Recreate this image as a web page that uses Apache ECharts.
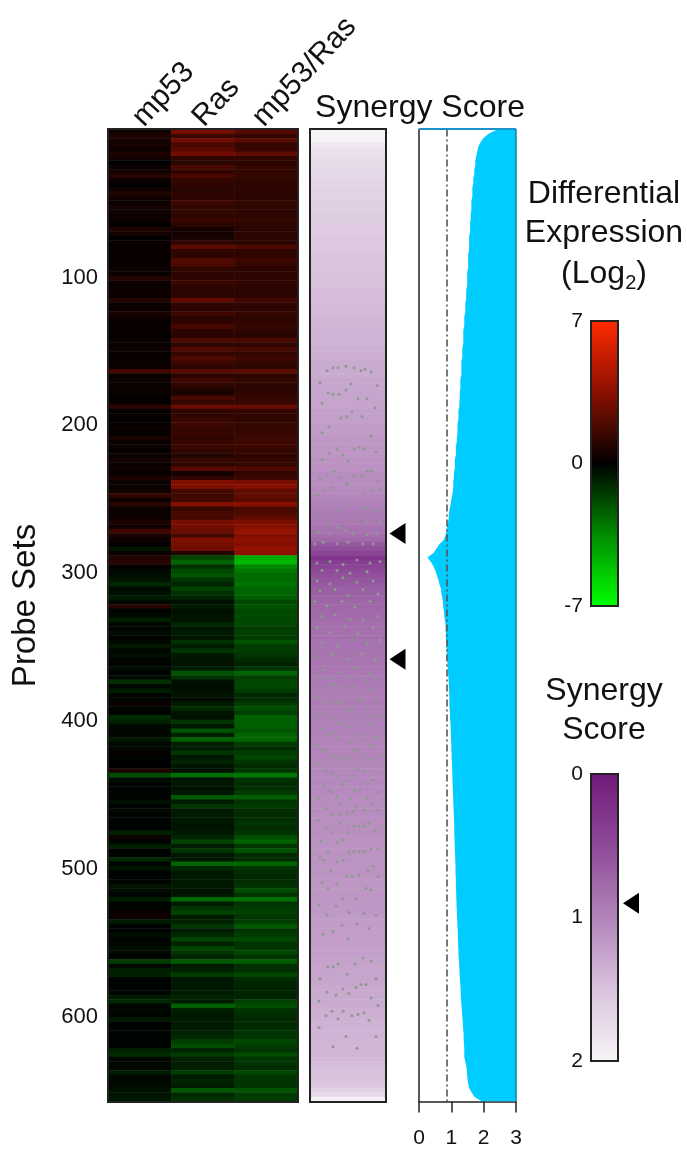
<!DOCTYPE html>
<html>
<head>
<meta charset="utf-8">
<style>html,body{margin:0;padding:0;background:#fff}#c{width:687px;height:1153px;filter:blur(0.6px)}</style>
<script src="https://cdn.jsdelivr.net/npm/echarts@6/dist/echarts.min.js"></script>
</head>
<body>
<div id="c"></div>
<script>
const sampleNames = ['mp53', 'Ras', 'mp53/Ras'];
const probeTicks = [100, 200, 300, 400, 500, 600];
const probeCount = 657;

// Log2 differential expression, one value per 3-probe row, read top to bottom
const mp53 = [
.4,.8,.5,.6,.3,.7,.4,0,.3,.5,
1,.3,0,.4,.8,.4,.3,.5,.4,.3,
.3,0,.7,.5,0,.2,.2,.2,.2,.2,
.2,.3,.2,.9,.3,.2,.3,.3,.9,.2,
.3,.6,.3,.2,.2,.2,.1,.2,.2,.3,
.2,.2,.2,.3,1.7,.2,.3,.2,.3,.2,
.1,.2,1.1,.1,.2,0,.1,.3,.1,.6,
.2,.3,.1,.3,.5,.2,.4,.2,.7,.3,
.2,.4,1.3,.3,1,.3,.2,.3,.7,.3,
1.6,.6,.3,.1,-.5,.2,.9,1,.1,-.2,
-.3,-.5,-1,-.3,-.4,-.7,-.2,1,-.1,-.2,
-.8,-.2,-.1,-.3,-.1,-.2,-.6,-.2,-.4,-.1,
-.1,-.3,-.1,-.2,-1.2,-.2,-.7,-.1,-.1,.3,
-.1,-.1,-1.1,-.8,-.2,-.2,-.2,-.6,-.2,-.2,
.2,-.1,0,0,.7,-1.9,-.3,-.1,-.1,-.1,
-.1,-.4,-.1,-.2,-.1,-.1,-.1,-.1,-.8,.3,
-.1,-.8,-.1,-.1,-1,-.1,-.5,-.1,-.1,-.1,
-.5,-.3,-.1,-.7,-.1,-.1,.3,.3,-.7,-.1,
-.1,-.3,-.1,-.2,-.4,-.2,-.1,-1.5,-.2,-.8,
-.8,-.1,-.1,-.1,-.1,-.7,-1,-.1,-.2,-.1,
-.6,-.1,-.1,-.1,-.1,-.1,-.1,-.8,-1.1,-.2,
-.2,-.2,-.7,-.2,-.2,-.3,-.4,-.5,-.6];

const ras = [
3,1.5,2.8,1.7,2.2,2.8,1.2,1,1.8,1.2,
1.8,1.3,1.2,1,1.2,1.1,1.6,1.2,1.3,1.1,
1.4,1,.5,.5,.6,1.2,2.3,1.2,1.1,2,
1.9,1.2,1.1,1.2,1.5,1.1,1,1.1,2.5,1.2,
1.1,1.6,1,1.2,1.8,1.1,1,2,1.1,2,
1.2,1.9,1.6,1.1,2.2,1,1.6,1.2,.8,.6,
1.8,1.3,2.6,1.2,1.2,1.4,1.5,1.3,1.4,1.2,
1.4,1.5,1.2,.8,1.4,1.1,2.1,.5,1.2,3.2,
3.2,1.7,1.5,1.7,3.2,1.4,1.8,1.7,3,2.9,
2.6,1.7,3.2,3,2.8,.8,-1.7,-2.5,-1.2,-1.8,
-2.1,-1.3,-.9,-1.7,-1.2,-.9,-.4,-.7,-.4,-.5,
-.5,-1,-.6,-.7,-.5,-1.2,-.7,-1.3,-.6,-.5,
-.5,-.7,-2.1,-1.2,-.4,-.3,-.4,-.5,-.3,-.7,
-1.1,-.5,-.4,-1.3,-.6,-2.1,-.8,-2.4,-.8,-.7,
-1.3,-.6,-.9,-.5,-.4,-2.8,-.5,-.6,-.4,-.6,
-2.2,-.7,-1.3,-.6,-.7,-.6,-.5,-.5,-.7,-.9,
-1.7,-.7,-1.3,-.6,-.6,-2.5,-1,-.6,-.6,-.6,
-.6,-.5,-.6,-2.6,-.7,-1.3,-1.7,-.7,-.8,-1.3,
-.7,-1,-1.7,-.8,-1.7,-1.3,-.9,-2.2,-.7,-.8,
-1.5,-.6,-.6,-.6,-.7,-.9,-.7,-2.4,-.8,-.6,
-.6,-.6,-.7,-.8,-1,-1.5,-1.9,-.9,-1.5,-.8,
-.7,-.8,-1.5,-.7,-.9,-.7,-2.2,-1,-1.2];

const mp53Ras = [
2.2,1.3,2.2,1.3,1.4,2.4,1.2,1.1,1.3,1.2,
1.3,1.2,1.1,1.2,1,1.1,1.3,1.1,1.1,1.2,
1.3,1.1,1,1.1,1,1.1,2,1.1,1.2,1.6,
1.3,1.1,1.1,1.2,1.2,1.1,1,1.1,1.6,1.2,
1.1,1.3,1.1,1.2,1.3,1.1,1,1.8,1.2,1.8,
1.2,1.5,1.3,1.1,2.3,1.1,1.3,1.2,1,1.2,
1.3,1.4,2.6,1.3,1.2,1.2,1.3,1.3,1.4,1.5,
1.6,1.5,1.3,1.2,1.3,1.3,2,1.2,1.5,3,
3.4,2.4,2.4,2.2,3.4,1.9,1.9,2.4,3.1,3.4,
3.8,3.3,3.5,3.3,3.8,3.5,-4.4,-4.8,-3.4,-3,
-2.7,-2.7,-2.9,-2.5,-2.5,-2.3,-1.8,-2.1,-1.8,-1.9,
-1.8,-1.8,-1.5,-1.6,-1.5,-2.1,-1.5,-1.5,-1.3,-1.1,
-.8,-1.3,-2.5,-1.6,-1.8,-1.8,-1.5,-1,-1.1,-1.5,
-1.9,-1.6,-2.4,-2.4,-2.4,-2.1,-2.5,-2.5,-1.5,-1.1,
-1.5,-1.8,-1.3,-1.1,-1.3,-3,-1.3,-1.1,-1.1,-1.5,
-2.3,-1.3,-1.5,-1.1,-1.1,-1.1,-1.3,-1.1,-1.3,-1.9,
-2.5,-1.3,-2.1,-1.1,-1.1,-2.5,-1.3,-1.1,-1,-1.1,
-1.3,-1.9,-1.3,-2.8,-1.3,-1.5,-1.6,-1.3,-1.5,-2.2,
-1.3,-1.5,-1.8,-1.3,-1.3,-1.8,-1.3,-2.3,-1.2,-1.2,
-1.8,-1.1,-.9,-.9,-.9,-.9,-1.6,-1.9,-1.3,-1.1,
-1,-1,-1.1,-1.3,-1.3,-1.8,-1.5,-1.3,-1.9,-1.3,
-1.3,-1.1,-1.8,-1.3,-1.3,-1.3,-2.1,-1.5,-1.5];

// Synergy score for the same rows
const synergy = [
2.42,2.14,1.98,1.89,1.83,1.80,1.77,1.74,1.74,1.71,
1.71,1.68,1.68,1.65,1.65,1.65,1.62,1.62,1.62,1.60,1.60,
1.58,1.58,1.58,1.55,1.55,1.55,1.55,1.52,1.52,1.52,1.52,1.49,1.49,1.49,1.49,1.46,1.46,1.46,1.43,1.43,
1.43,1.40,1.40,1.40,1.37,1.37,1.37,1.37,1.34,1.34,1.34,1.31,1.31,1.31,1.31,1.28,1.28,1.28,1.26,1.26,
1.25,1.25,1.22,1.22,1.22,1.19,1.19,1.19,1.17,1.17,1.14,1.14,1.14,1.11,1.11,1.11,1.08,1.08,1.06,1.06,
1.05,1.03,1.00,0.98,0.95,0.93,0.92,0.90,0.87,0.85,
0.82,0.77,0.63,0.54,0.45,0.26,0.37,0.45,0.51,0.55,0.60,0.63,0.68,0.69,0.72,0.74,0.75,0.77,0.78,0.80,0.82,
0.82,0.83,0.83,0.85,0.85,0.86,0.86,0.88,0.88,0.89,0.90,0.91,0.92,
0.93,0.93,0.94,0.94,0.94,0.95,0.96,0.96,0.97,
0.98,0.98,0.99,0.99,1.00,1.00,1.01,1.01,1.02,1.02,1.03,1.03,
1.04,1.04,1.05,1.05,1.06,1.06,1.07,1.07,1.08,1.08,1.09,1.09,
1.09,1.10,1.10,1.11,1.11,1.12,1.12,1.13,1.13,1.13,1.14,1.14,1.14,
1.15,1.15,1.16,1.16,1.17,1.17,1.18,1.19,1.19,
1.20,1.20,1.21,1.21,1.22,1.22,1.23,1.24,1.25,
1.25,1.26,1.27,1.28,1.29,1.29,1.30,1.31,1.32,
1.33,1.34,1.35,1.36,1.37,1.38,1.38,1.39,1.40,1.40,1.40,
1.43,1.46,1.48,1.49,1.50,1.52,1.55,1.63,1.72,1.95];

const synergyThreshold = 0.85;
const arrowProbes = [273, 358];
const legendArrowScore = [0.9];

// Small grey dots in the synergy column: [across column, probe]
const dots = [
[17,163],[23,161],[28,161],[36,160],[44,161],[51,163],[55,162],[61,164],[10,171],[41,172],[67,173],[18,178],[23,179],[29,179],[36,176],[12,185],[48,182],[57,182],[65,188],[42,191],[37,194],[31,195],[52,194],[19,201],[12,205],[61,207],[27,216],[44,216],[49,215],[54,216],[19,219],[33,220],[66,218],[12,223],[38,224],[24,231],[17,234],[10,236],[31,235],[44,234],[52,234],[57,231],[61,231],[68,237],[37,239],
[15,244],[23,242],[37,240],[53,246],[61,244],[70,243],[8,247],[20,253],[27,257],[37,253],[55,256],[67,258],[10,261],[17,266],[27,269],[36,271],[47,264],[57,265],[70,265],[8,272],[20,273],[43,273],[57,274],[67,273],[5,280],[13,279],[27,280],[38,279],[53,280],[63,280],
[7,293],[20,292],[33,294],[47,291],[60,293],[70,292],[12,298],[27,298],[40,300],[57,299],[7,305],[20,307],[33,303],[47,306],[63,305],[10,312],[25,311],[38,315],[53,311],[68,314],[5,319],[17,322],[32,319],[45,323],[60,319],[12,329],[25,328],[40,331],[53,332],[68,329],[7,337],[20,340],[35,336],[48,341],[63,337],[12,347],[28,349],[42,345],[57,347],[70,345],[7,356],[22,355],[37,358],[52,354],[65,359],[13,365],[30,367],[45,364],[60,368],[7,370],[23,371],
[13,371],[25,375],[40,370],[55,372],[65,370],[18,376],[32,376],[43,376],[61,379],[8,383],[48,385],[52,386],[12,387],[22,388],[27,387],[32,388],[58,389],[42,391],[37,393],[66,385],[14,395],[7,397],[20,398],[48,397],[62,397],[68,397],[27,401],[33,402],[41,404],[53,401],[59,402],[12,405],[17,409],[22,408],[29,412],[48,409],[66,411],[54,412],[8,416],[13,420],[41,414],[60,416],[45,420],[52,423],[68,423],[24,423],[35,424],[30,425],[40,425],[58,426],[62,426],[8,429],[16,433],[22,435],[27,437],[48,433],[54,434],[68,435],[42,437],[63,440],[37,440],[58,442],[32,443],[14,444],[20,447],[68,448],[50,446],[45,447],[22,448],[8,452],[27,451],[40,452],[57,452],[31,456],[47,458],[63,456],[16,459],[30,463],[43,461],[55,460],
[22,463],[37,462],[68,460],[8,467],[30,469],[59,469],[16,472],[21,475],[38,475],[44,471],[49,471],[54,471],[65,474],[11,481],[27,482],[33,480],[18,489],[39,489],[44,488],[49,488],[54,488],[61,486],[68,486],[10,492],[14,494],[27,495],[33,494],[21,501],[58,501],[63,498],[37,505],[42,505],[49,504],[68,505],[12,509],[27,510],[18,513],[56,513],[61,514],[33,520],[46,520],[9,524],[26,525],[17,531],[39,529],[54,530],[66,531],[47,537],[32,538],[59,540],[23,542],[13,544],[38,547],
[53,560],[61,562],[18,566],[23,566],[28,564],[45,564],[37,571],[10,574],[66,574],[33,581],[46,580],[51,578],[56,578],[17,583],[26,585],[39,584],[61,587],[9,589],[68,592],[22,596],[33,596],[16,599],[28,601],[42,599],[48,598],[54,597],[59,602],[9,607],[36,613],[66,613],[23,620],[47,621]];

const FONT = '"Liberation Sans", Arial, sans-serif';
const INK = '#111';
const rowIdx = mp53.map((_, i) => String(i));
const heatData = [];
[mp53, ras, mp53Ras].forEach((col, x) => col.forEach((v, y) => heatData.push([x, y, v])));
const synData = synergy.map((v, y) => [0, y, v]);

const hidden = { show: false };
const bare = { axisLine: hidden, axisTick: hidden, axisLabel: hidden, splitLine: hidden };
const label = (size) => ({ color: INK, fontFamily: FONT, fontSize: size });
const txt = (text, x, y, size) => ({
  type: 'text', x, y, z: 50,
  style: { text, fill: INK, font: size + 'px ' + FONT, textAlign: 'center', textVerticalAlign: 'middle' }
});
const rotTxt = (text, x, y) => ({
  type: 'text', x, y, z: 50, rotation: 47 * Math.PI / 180,
  style: { text, fill: INK, font: '30px ' + FONT, textAlign: 'left', textVerticalAlign: 'middle' }
});
const frame = (x, y, w, h) => ({
  type: 'rect', z: 40, shape: { x, y, width: w, height: h },
  style: { fill: 'none', stroke: '#222', lineWidth: 2 }
});

const HEAT = 0, PANEL = 1, CURVE = 2, LEG1 = 3, LEG2 = 4;

const option = {
  animation: false,
  backgroundColor: '#fff',
  textStyle: { fontFamily: FONT },
  grid: [
    { left: 108, top: 129.5, width: 190, height: 972 },
    { left: 310, top: 129.5, width: 76, height: 972 },
    { left: 419, top: 129.5, width: 97, height: 972 },
    { left: 591, top: 321, width: 27, height: 285 },
    { left: 591, top: 774, width: 27, height: 287 }
  ],
  xAxis: [
    { gridIndex: HEAT, type: 'category', position: 'top', data: sampleNames, ...bare },
    { gridIndex: PANEL, type: 'category', data: ['Synergy Score'], ...bare },
    { gridIndex: PANEL, type: 'value', min: 0, max: 76, ...bare },
    { gridIndex: CURVE, type: 'value', min: 0, max: 3, interval: 1, position: 'bottom',
      axisLine: { show: true, onZero: false, lineStyle: { color: '#222', width: 1.5 } },
      axisTick: { show: true, length: 11, lineStyle: { color: '#222', width: 1.5 } },
      splitLine: hidden,
      axisLabel: Object.assign(label(21), { margin: 26 }) },
    { gridIndex: LEG1, type: 'value', min: 0, max: 1, ...bare },
    { gridIndex: LEG2, type: 'value', min: 0, max: 27, ...bare }
  ],
  yAxis: [
    { gridIndex: HEAT, type: 'category', inverse: true, data: rowIdx, ...bare },
    { gridIndex: HEAT, type: 'value', inverse: true, min: 0, max: probeCount, position: 'left',
      name: 'Probe Sets', nameLocation: 'middle', nameRotate: 90, nameGap: 66,
      nameTextStyle: Object.assign(label(33), { padding: [0, 0, 0, 20] }),
      axisLine: hidden, axisTick: hidden, splitLine: hidden,
      axisLabel: Object.assign(label(22), { margin: 10, customValues: probeTicks, padding: [4, 0, 0, 0] }) },
    { gridIndex: PANEL, type: 'category', inverse: true, data: rowIdx, ...bare },
    { gridIndex: PANEL, type: 'value', inverse: true, min: 0, max: probeCount, ...bare },
    { gridIndex: CURVE, type: 'category', inverse: true, boundaryGap: false, data: rowIdx,
      axisLine: { show: true, lineStyle: { color: '#222', width: 1.5 } },
      axisTick: hidden, axisLabel: hidden, splitLine: hidden },
    { gridIndex: LEG1, type: 'value', min: -7, max: 7, interval: 7,
      axisLine: hidden, axisTick: hidden, splitLine: hidden,
      axisLabel: Object.assign(label(21), { margin: 8, padding: [2, 0, 0, 0] }) },
    { gridIndex: LEG2, type: 'value', inverse: true, min: 0, max: 2, interval: 1,
      axisLine: hidden, axisTick: hidden, splitLine: hidden,
      axisLabel: Object.assign(label(21), { margin: 8, padding: [4, 0, 0, 0] }) }
  ],
  visualMap: [
    { type: 'continuous', seriesIndex: 0, dimension: 2, min: -7, max: 7,
      left: 591, top: 321, itemWidth: 27, itemHeight: 285, padding: 0, calculable: false,
      hoverLink: false, text: null, showLabel: false,
      inRange: { color: ['#00ff00', '#008c00', '#000000', '#8c1000', '#ff2a00'] },
      textStyle: { color: 'transparent', fontSize: 1 } },
    { type: 'continuous', seriesIndex: 1, dimension: 2, min: 0, max: 2, inverse: true,
      left: 591, top: 774, itemWidth: 27, itemHeight: 287, padding: 0, calculable: false,
      hoverLink: false, text: null, showLabel: false,
      inRange: { color: ['#701a7a', '#8e4a98', '#b284ba', '#d9c3dd', '#f6f4f6'] },
      outOfRange: { color: '#f6f4f6' },
      textStyle: { color: 'transparent', fontSize: 1 } }
  ],
  series: [
    { type: 'heatmap', xAxisIndex: 0, yAxisIndex: 0, data: heatData, progressive: 0, silent: true },
    { type: 'heatmap', xAxisIndex: 1, yAxisIndex: 2, data: synData, progressive: 0, silent: true },
    { type: 'scatter', xAxisIndex: 2, yAxisIndex: 3, data: dots, symbolSize: 3, silent: true,
      itemStyle: { color: '#8d9a8e', opacity: 1 } },
    { type: 'scatter', xAxisIndex: 2, yAxisIndex: 3, data: arrowProbes.map(p => [87.5, p]),
      symbol: 'triangle', symbolSize: [21, 16], symbolRotate: 90, clip: false, silent: true,
      itemStyle: { color: '#000', opacity: 1 } },
    { type: 'line', xAxisIndex: 3, yAxisIndex: 4, data: synergy, showSymbol: false,
      lineStyle: { width: 0 }, areaStyle: { color: '#00ccff', origin: 'end', opacity: 1 },
      silent: true, z: 3,
      markLine: { silent: true, symbol: 'none', label: hidden, animation: false,
        data: [{ xAxis: synergyThreshold }],
        lineStyle: { color: '#555', type: [7, 3, 2, 3], width: 1.6 } } },
    { type: 'scatter', xAxisIndex: 5, yAxisIndex: 6, data: legendArrowScore.map(s => [40, s]),
      symbol: 'triangle', symbolSize: [21, 16], symbolRotate: 90, clip: false, silent: true,
      itemStyle: { color: '#000', opacity: 1 } }
  ],
  graphic: { elements: [
    frame(108, 129, 190, 973),
    frame(310, 129, 76, 973),
    frame(591, 321, 27, 285),
    frame(591, 774, 27, 287),
    { type: 'line', z: 40, shape: { x1: 419, y1: 129, x2: 516, y2: 129 }, style: { stroke: '#1b93c8', lineWidth: 2 } },
    { type: 'line', z: 40, shape: { x1: 516, y1: 129, x2: 516, y2: 1101 }, style: { stroke: '#16809f', lineWidth: 1.5 } },
    rotTxt(sampleNames[0], 138, 122),
    rotTxt(sampleNames[1], 198, 122),
    rotTxt(sampleNames[2], 258, 122),
    txt('Synergy Score', 420, 108, 32),
    txt('Differential', 604, 194, 32),
    txt('Expression', 604, 233, 32),
    { type: 'text', x: 604, y: 274, z: 50,
      style: { text: '{a|(Log}{b|2}{a|)}', textAlign: 'center', textVerticalAlign: 'middle',
        rich: {
          a: { fontSize: 32, fontFamily: FONT, fill: INK, lineHeight: 38 },
          b: { fontSize: 20, fontFamily: FONT, fill: INK, lineHeight: 20, verticalAlign: 'bottom' }
        } } },
    txt('Synergy', 604, 691, 32),
    txt('Score', 604, 730, 32)
  ] }
};

const chart = echarts.init(document.getElementById('c'), null, { renderer: 'canvas' });
chart.setOption(option);
</script>
</body>
</html>
